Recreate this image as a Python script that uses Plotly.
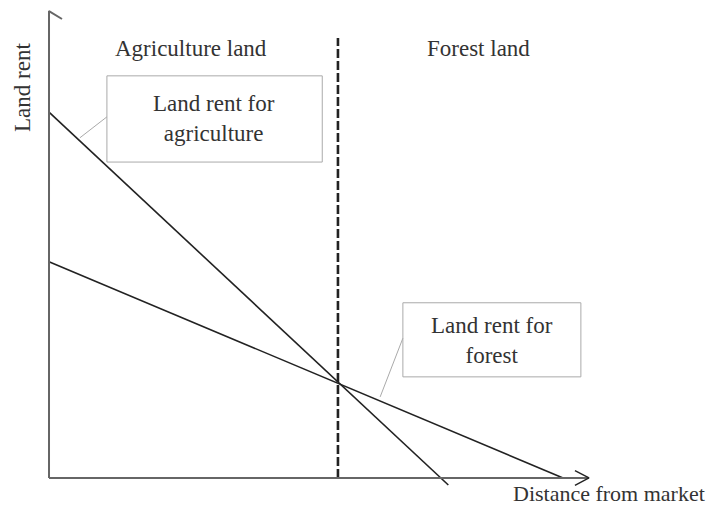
import plotly.graph_objects as go

# ---- data (distance from market vs land rent, arbitrary units) ----
agri_distance = [0.0, 73.8]
agri_rent = [78.5, -1.5]
forest_distance = [0.0, 95.0]
forest_rent = [46.4, 0.0]
boundary_distance = 53.4          # where the two rent lines cross
boundary_top = 94.4

region_labels = ["Agriculture land", "Forest land"]
region_label_x = [26.2, 79.3]
axis_title_x = "Distance from market"
axis_title_y = "Land rent"
callout_texts = ["Land rent for<br>agriculture", "Land rent for<br>forest"]

# ---- styling / layout ----
FONT = dict(family="Liberation Serif, Times New Roman, serif", size=23, color="#333333")
LINE_C = "#222222"
AXIS_C = "#666666"
BOX_C = "#aaaaaa"

fig = go.Figure()

# rent lines
fig.add_trace(go.Scatter(x=agri_distance, y=agri_rent, mode="lines",
                         line=dict(color=LINE_C, width=1.6), hoverinfo="skip"))
fig.add_trace(go.Scatter(x=forest_distance, y=forest_rent, mode="lines",
                         line=dict(color=LINE_C, width=1.6), hoverinfo="skip"))
# boundary
fig.add_trace(go.Scatter(x=[boundary_distance, boundary_distance], y=[0, boundary_top], mode="lines",
                         line=dict(color=LINE_C, width=2.6, dash="9px,3px"), hoverinfo="skip"))

# axes with open arrowheads
fig.add_trace(go.Scatter(x=[0, 0, 2.4], y=[0, 100.2, 98.5], mode="lines",
                         line=dict(color=AXIS_C, width=2), hoverinfo="skip"))
fig.add_trace(go.Scatter(x=[0, 99.8], y=[0, 0], mode="lines",
                         line=dict(color=AXIS_C, width=2), hoverinfo="skip"))
fig.add_trace(go.Scatter(x=[97.2, 99.8, 97.2], y=[1.6, 0, -1.6], mode="lines",
                         line=dict(color=LINE_C, width=1.4), hoverinfo="skip"))

# callout leader lines
fig.add_trace(go.Scatter(x=[5.7, 10.7], y=[73.0, 77.5], mode="lines",
                         line=dict(color=BOX_C, width=1), hoverinfo="skip"))
fig.add_trace(go.Scatter(x=[61.2, 65.4], y=[17.4, 30.0], mode="lines",
                         line=dict(color=BOX_C, width=1), hoverinfo="skip"))

shapes = [
    dict(type="rect", x0=10.7, x1=50.5, y0=67.8, y1=86.3, line=dict(color=BOX_C, width=1),
         fillcolor="white", layer="below"),
    dict(type="rect", x0=65.4, x1=98.3, y0=21.7, y1=37.6, line=dict(color=BOX_C, width=1),
         fillcolor="white", layer="below"),
]

annotations = [
    dict(x=region_label_x[0], y=92.1, text=region_labels[0], showarrow=False, font=FONT),
    dict(x=region_label_x[1], y=92.1, text=region_labels[1], showarrow=False, font=FONT),
    dict(x=-5.0, y=83.9, text=axis_title_y, showarrow=False, font=FONT, textangle=-90),
    dict(x=121.6, y=-3.3, text=axis_title_x, showarrow=False, font=dict(FONT, size=22),
         xanchor="right"),
    dict(x=30.5, y=77.2, text=callout_texts[0], showarrow=False, font=FONT),
    dict(x=81.9, y=29.4, text=callout_texts[1], showarrow=False, font=FONT),
]

# page body has an 8px margin, so the figure is 8px smaller and ranges compensate
fig.update_layout(
    width=706, height=500,
    margin=dict(l=0, r=0, t=0, b=0),
    paper_bgcolor="white", plot_bgcolor="white",
    showlegend=False,
    shapes=shapes,
    annotations=annotations,
    xaxis=dict(range=[-7.58, 122.9], visible=False, fixedrange=True),
    yaxis=dict(range=[-6.44, 100.86], visible=False, fixedrange=True),
)

fig.write_html("out.html")
